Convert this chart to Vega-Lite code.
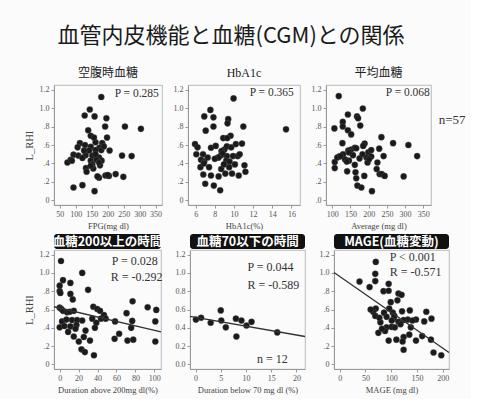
{
  "$schema": "https://vega.github.io/schema/vega-lite/v6.json",
  "background": "#fbfbfb",
  "padding": {"left": 23, "top": 24, "right": 5, "bottom": 5},
  "title": {"text": "血管内皮機能と血糖(CGM)との関係", "anchor": "start", "font": "Noto Sans CJK JP", "fontSize": 22, "fontWeight": "normal", "color": "#1a1a1a", "dx": 34, "offset": 19},
  "config": {
    "view": {"stroke": "#aaa", "strokeWidth": 0.8},
    "axis": {"labelFont": "Liberation Serif", "labelFontSize": 8, "labelColor": "#555", "labelOverlap": false, "labelFlush": false, "titleFont": "Liberation Serif", "titleFontSize": 8.5, "titleFontWeight": "normal", "titleColor": "#444", "domainColor": "#999", "tickColor": "#999", "tickSize": 3, "grid": false, "labelPadding": 2, "titlePadding": 3},
    "axisY": {"titleFontSize": 10.5, "titlePadding": 5},
    "circle": {"size": 38, "color": "#1a1a1a", "opacity": 1, "stroke": "#555", "strokeWidth": 0.4},
    "line": {"color": "#333", "strokeWidth": 1.3}
  },
  "datasets": {
    "p1": [{"x":180,"y":1.12},{"x":144,"y":0.985},{"x":128,"y":0.92},{"x":159,"y":0.91},{"x":196,"y":0.89},{"x":192,"y":0.80},{"x":254,"y":0.80},{"x":304,"y":0.775},{"x":139,"y":0.76},{"x":147,"y":0.70},{"x":198,"y":0.68},{"x":162,"y":0.63},{"x":113,"y":0.62},{"x":129,"y":0.60},{"x":147,"y":0.58},{"x":183,"y":0.62},{"x":174,"y":0.57},{"x":106,"y":0.575},{"x":162,"y":0.545},{"x":206,"y":0.54},{"x":180,"y":0.545},{"x":93,"y":0.495},{"x":108,"y":0.485},{"x":131,"y":0.49},{"x":152,"y":0.485},{"x":173,"y":0.465},{"x":181,"y":0.43},{"x":84,"y":0.44},{"x":74,"y":0.41},{"x":88,"y":0.43},{"x":147,"y":0.43},{"x":165,"y":0.44},{"x":245,"y":0.485},{"x":275,"y":0.48},{"x":132,"y":0.35},{"x":155,"y":0.345},{"x":134,"y":0.31},{"x":176,"y":0.38},{"x":193,"y":0.27},{"x":173,"y":0.245},{"x":168,"y":0.26},{"x":204,"y":0.265},{"x":225,"y":0.285},{"x":200,"y":0.275},{"x":249,"y":0.255},{"x":93,"y":0.14},{"x":121,"y":0.165},{"x":159,"y":0.10},{"x":152,"y":0.39},{"x":162,"y":0.50},{"x":142,"y":0.54},{"x":121,"y":0.46},{"x":147,"y":0.375},{"x":173,"y":0.41},{"x":188,"y":0.585},{"x":126,"y":0.54},{"x":157,"y":0.68}],
    "p2": [{"x":9.96,"y":1.105},{"x":7.54,"y":0.98},{"x":6.9,"y":0.91},{"x":7.86,"y":0.90},{"x":9.4,"y":0.88},{"x":9.33,"y":0.835},{"x":7.86,"y":0.80},{"x":7.05,"y":0.755},{"x":10.98,"y":0.80},{"x":15.44,"y":0.77},{"x":9.65,"y":0.70},{"x":8.88,"y":0.675},{"x":5.93,"y":0.61},{"x":6.2,"y":0.575},{"x":7.6,"y":0.57},{"x":9.0,"y":0.55},{"x":8.7,"y":0.535},{"x":9.26,"y":0.585},{"x":9.72,"y":0.575},{"x":10.2,"y":0.61},{"x":10.84,"y":0.615},{"x":6.07,"y":0.50},{"x":6.77,"y":0.50},{"x":8.32,"y":0.465},{"x":8.67,"y":0.49},{"x":9.26,"y":0.48},{"x":9.9,"y":0.48},{"x":10.4,"y":0.48},{"x":6.56,"y":0.44},{"x":6.9,"y":0.42},{"x":9.2,"y":0.43},{"x":9.54,"y":0.42},{"x":6.5,"y":0.36},{"x":8.67,"y":0.34},{"x":11.1,"y":0.38},{"x":11.2,"y":0.31},{"x":9.1,"y":0.29},{"x":9.8,"y":0.29},{"x":6.8,"y":0.28},{"x":7.6,"y":0.27},{"x":8.4,"y":0.26},{"x":10.5,"y":0.27},{"x":7.0,"y":0.18},{"x":7.9,"y":0.16},{"x":8.56,"y":0.11},{"x":7.26,"y":0.465},{"x":8.8,"y":0.51},{"x":9.3,"y":0.675},{"x":8.4,"y":0.465},{"x":8.0,"y":0.45},{"x":10.1,"y":0.39},{"x":10.6,"y":0.50},{"x":7.4,"y":0.36},{"x":6.85,"y":0.40},{"x":9.5,"y":0.36},{"x":8.1,"y":0.59},{"x":8.95,"y":0.39}],
    "p3": [{"x":118,"y":1.13},{"x":184,"y":0.995},{"x":143,"y":0.93},{"x":168,"y":0.91},{"x":129,"y":0.85},{"x":171,"y":0.89},{"x":106,"y":0.78},{"x":129,"y":0.80},{"x":143,"y":0.76},{"x":152,"y":0.715},{"x":177,"y":0.81},{"x":235,"y":0.685},{"x":128,"y":0.62},{"x":189,"y":0.615},{"x":185,"y":0.59},{"x":267,"y":0.62},{"x":309,"y":0.60},{"x":333,"y":0.48},{"x":152,"y":0.55},{"x":162,"y":0.57},{"x":144,"y":0.54},{"x":166,"y":0.565},{"x":199,"y":0.52},{"x":207,"y":0.545},{"x":229,"y":0.56},{"x":119,"y":0.475},{"x":130,"y":0.50},{"x":135,"y":0.445},{"x":146,"y":0.43},{"x":157,"y":0.49},{"x":175,"y":0.455},{"x":194,"y":0.465},{"x":207,"y":0.475},{"x":241,"y":0.48},{"x":107,"y":0.415},{"x":107,"y":0.35},{"x":114,"y":0.465},{"x":140,"y":0.42},{"x":162,"y":0.385},{"x":197,"y":0.41},{"x":224,"y":0.41},{"x":222,"y":0.34},{"x":141,"y":0.315},{"x":164,"y":0.305},{"x":166,"y":0.24},{"x":188,"y":0.265},{"x":230,"y":0.285},{"x":236,"y":0.285},{"x":244,"y":0.265},{"x":296,"y":0.26},{"x":169,"y":0.16},{"x":180,"y":0.14},{"x":209,"y":0.10},{"x":201,"y":0.445},{"x":183,"y":0.50},{"x":123,"y":0.48},{"x":146,"y":0.52}],
    "p4": [{"x":1.4,"y":1.13},{"x":23.8,"y":1.0},{"x":3.5,"y":0.92},{"x":11.3,"y":0.89},{"x":0,"y":0.86},{"x":0,"y":0.80},{"x":30,"y":0.815},{"x":0.7,"y":0.78},{"x":11.3,"y":0.77},{"x":13.8,"y":0.71},{"x":77,"y":0.69},{"x":0,"y":0.62},{"x":1.8,"y":0.605},{"x":3.5,"y":0.585},{"x":7.8,"y":0.57},{"x":10.6,"y":0.575},{"x":14.9,"y":0.585},{"x":35.5,"y":0.63},{"x":39.7,"y":0.605},{"x":42.6,"y":0.585},{"x":46.8,"y":0.54},{"x":70.6,"y":0.56},{"x":92.9,"y":0.625},{"x":102,"y":0.595},{"x":43.6,"y":0.50},{"x":48.6,"y":0.50},{"x":38.7,"y":0.455},{"x":58.5,"y":0.47},{"x":76.6,"y":0.475},{"x":101,"y":0.47},{"x":2.5,"y":0.47},{"x":7.1,"y":0.49},{"x":13,"y":0.485},{"x":18.4,"y":0.485},{"x":23.8,"y":0.48},{"x":0,"y":0.405},{"x":5,"y":0.42},{"x":11.3,"y":0.415},{"x":17.7,"y":0.43},{"x":37.2,"y":0.40},{"x":75.5,"y":0.40},{"x":8.9,"y":0.355},{"x":14.9,"y":0.305},{"x":25.5,"y":0.30},{"x":62.8,"y":0.335},{"x":20.2,"y":0.25},{"x":32,"y":0.26},{"x":58,"y":0.28},{"x":71.6,"y":0.26},{"x":77.7,"y":0.27},{"x":101,"y":0.25},{"x":23,"y":0.165},{"x":26.6,"y":0.135},{"x":36.2,"y":0.10},{"x":27.3,"y":0.37},{"x":16.7,"y":0.39},{"x":34.4,"y":0.50}],
    "p5": [{"x":0.07,"y":0.49},{"x":1.1,"y":0.51},{"x":3,"y":0.455},{"x":5,"y":0.59},{"x":5.1,"y":0.48},{"x":6,"y":0.405},{"x":8,"y":0.50},{"x":9.1,"y":0.48},{"x":10.1,"y":0.425},{"x":11.1,"y":0.465},{"x":8.1,"y":0.305},{"x":16.2,"y":0.35}],
    "p6": [{"x":70,"y":1.12},{"x":69,"y":0.99},{"x":38.5,"y":0.905},{"x":69,"y":0.91},{"x":95,"y":0.88},{"x":58,"y":0.845},{"x":85,"y":0.80},{"x":95,"y":0.805},{"x":114,"y":0.775},{"x":120,"y":0.76},{"x":99,"y":0.68},{"x":112,"y":0.70},{"x":70,"y":0.61},{"x":96,"y":0.61},{"x":65,"y":0.575},{"x":86,"y":0.565},{"x":103,"y":0.565},{"x":121,"y":0.58},{"x":136,"y":0.59},{"x":168,"y":0.575},{"x":69,"y":0.53},{"x":91,"y":0.52},{"x":105,"y":0.50},{"x":132,"y":0.49},{"x":148,"y":0.49},{"x":164,"y":0.47},{"x":178,"y":0.50},{"x":79,"y":0.46},{"x":114,"y":0.465},{"x":124,"y":0.485},{"x":91,"y":0.405},{"x":101,"y":0.41},{"x":88,"y":0.365},{"x":75,"y":0.345},{"x":138,"y":0.405},{"x":135,"y":0.325},{"x":124,"y":0.30},{"x":160,"y":0.31},{"x":95,"y":0.26},{"x":110,"y":0.27},{"x":122,"y":0.25},{"x":148,"y":0.26},{"x":177,"y":0.27},{"x":124,"y":0.16},{"x":182,"y":0.13},{"x":197,"y":0.10},{"x":106,"y":0.53},{"x":118,"y":0.44},{"x":77,"y":0.51},{"x":101,"y":0.48},{"x":60,"y":0.60},{"x":141,"y":0.48},{"x":107,"y":0.405},{"x":82,"y":0.39}]
  },
  "spacing": 4,
  "vconcat": [
    {
      "spacing": 9,
      "hconcat": [
        {
          "width": 108, "height": 120,
          "title": {"text": "空腹時血糖", "font": "Noto Sans CJK JP", "fontSize": 12, "fontWeight": "normal", "color": "#222", "offset": 5},
          "layer": [
            {"data": {"name": "p1"}, "mark": "circle",
             "encoding": {
               "x": {"field": "x", "type": "quantitative", "scale": {"domain": [32, 370], "nice": false, "zero": false}, "axis": {"values": [50,100,150,200,250,300,350], "tickCount": 20, "format": "d", "title": "FPG(mg dl)"}},
               "y": {"field": "y", "type": "quantitative", "scale": {"domain": [-0.05, 1.25], "nice": false}, "axis": {"values": [0,0.2,0.4,0.6,0.8,1,1.2], "tickCount": 20, "title": "L_RHI", "labelExpr": "datum.value >= 1 ? format(datum.value, '.1f') : datum.value == 0 ? '0' : replace(format(datum.value, '.1f'), '0.', '.')"}}
             }},
            {"data": {"values": [{"x": 222, "y": 1.15, "t": "P = 0.285"}]}, "mark": {"type": "text", "font": "Liberation Serif", "fontSize": 11.5, "color": "#333", "align": "left"},
             "encoding": {"x": {"field": "x", "type": "quantitative"}, "y": {"field": "y", "type": "quantitative"}, "text": {"field": "t"}}}
          ]
        },
        {
          "width": 112, "height": 120,
          "title": {"text": "HbA1c", "font": "Liberation Serif", "fontSize": 12, "fontWeight": "normal", "color": "#222", "offset": 5},
          "layer": [
            {"data": {"name": "p2"}, "mark": "circle",
             "encoding": {
               "x": {"field": "x", "type": "quantitative", "scale": {"domain": [5.2, 16.9], "nice": false, "zero": false}, "axis": {"values": [6,8,10,12,14,16], "tickCount": 20, "format": "d", "title": "HbA1c(%)"}},
               "y": {"field": "y", "type": "quantitative", "scale": {"domain": [-0.05, 1.25], "nice": false}, "axis": {"values": [0,0.2,0.4,0.6,0.8,1,1.2], "tickCount": 20, "title": null, "labelExpr": "datum.value >= 1 ? format(datum.value, '.1f') : datum.value == 0 ? '0' : replace(format(datum.value, '.1f'), '0.', '.')"}}
             }},
            {"data": {"values": [{"x": 11.65, "y": 1.16, "t": "P = 0.365"}]}, "mark": {"type": "text", "font": "Liberation Serif", "fontSize": 11.5, "color": "#333", "align": "left"},
             "encoding": {"x": {"field": "x", "type": "quantitative"}, "y": {"field": "y", "type": "quantitative"}, "text": {"field": "t"}}}
          ]
        },
        {
          "width": 105, "height": 120,
          "title": {"text": "平均血糖", "font": "Noto Sans CJK JP", "fontSize": 12, "fontWeight": "normal", "color": "#222", "offset": 5},
          "layer": [
            {"data": {"name": "p3"}, "mark": "circle",
             "encoding": {
               "x": {"field": "x", "type": "quantitative", "scale": {"domain": [83, 371], "nice": false, "zero": false}, "axis": {"values": [100,150,200,250,300,350], "tickCount": 20, "format": "d", "title": "Average (mg dl)"}},
               "y": {"field": "y", "type": "quantitative", "scale": {"domain": [-0.05, 1.25], "nice": false}, "axis": {"values": [0,0.2,0.4,0.6,0.8,1,1.2], "tickCount": 20, "title": null, "labelExpr": "datum.value >= 1 ? format(datum.value, '.1f') : replace(format(datum.value, '.1f'), '0.', '.')"}}
             }},
            {"data": {"values": [{"x": 247, "y": 1.16, "t": "P = 0.068"}]}, "mark": {"type": "text", "font": "Liberation Serif", "fontSize": 11.5, "color": "#333", "align": "left"},
             "encoding": {"x": {"field": "x", "type": "quantitative"}, "y": {"field": "y", "type": "quantitative"}, "text": {"field": "t"}}},
            {"data": {"values": [{"x": 392, "y": 0.87, "t": "n=57"}]}, "mark": {"type": "text", "font": "Liberation Serif", "fontSize": 13, "color": "#333", "align": "left"},
             "encoding": {"x": {"field": "x", "type": "quantitative"}, "y": {"field": "y", "type": "quantitative"}, "text": {"field": "t"}}}
          ]
        }
      ]
    },
    {
      "spacing": 10,
      "hconcat": [
        {
          "spacing": 0,
          "vconcat": [
            {"width": 107, "height": 15, "view": {"fill": "#111", "stroke": null, "cornerRadius": 3},
             "data": {"values": [{"t": "血糖200以上の時間"}]},
             "mark": {"type": "text", "align": "center", "color": "white", "font": "Noto Sans CJK JP", "fontWeight": "bold", "fontSize": 12.5},
             "encoding": {"text": {"field": "t"}}},
            {
              "width": 107, "height": 119,
              "layer": [
                {"data": {"name": "p4"}, "mark": "circle",
                 "encoding": {
                   "x": {"field": "x", "type": "quantitative", "scale": {"domain": [-6, 107], "nice": false, "zero": false}, "axis": {"values": [0,20,40,60,80,100], "tickCount": 20, "format": "d", "title": "Duration above 200mg dl(%)"}},
                   "y": {"field": "y", "type": "quantitative", "scale": {"domain": [-0.05, 1.25], "nice": false}, "axis": {"values": [0,0.2,0.4,0.6,0.8,1,1.2], "tickCount": 20, "title": "L_RHI", "labelExpr": "datum.value >= 1 ? format(datum.value, '.1f') : datum.value == 0 ? '0' : replace(format(datum.value, '.1f'), '0.', '.')"}}
                 }},
                {"data": {"values": [{"x": -6, "y": 0.63}, {"x": 107, "y": 0.355}]}, "mark": "line",
                 "encoding": {"x": {"field": "x", "type": "quantitative"}, "y": {"field": "y", "type": "quantitative"}}},
                {"data": {"values": [{"x": 55, "y": 1.13, "t": "P = 0.028"}, {"x": 54, "y": 0.96, "t": "R = -0.292"}]}, "mark": {"type": "text", "font": "Liberation Serif", "fontSize": 12, "color": "#333", "align": "left"},
                 "encoding": {"x": {"field": "x", "type": "quantitative"}, "y": {"field": "y", "type": "quantitative"}, "text": {"field": "t"}}}
              ]
            }
          ]
        },
        {
          "spacing": 0,
          "vconcat": [
            {"width": 115, "height": 15, "view": {"fill": "#111", "stroke": null, "cornerRadius": 3},
             "data": {"values": [{"t": "血糖70以下の時間"}]},
             "mark": {"type": "text", "align": "center", "color": "white", "font": "Noto Sans CJK JP", "fontWeight": "bold", "fontSize": 12.5},
             "encoding": {"text": {"field": "t"}}},
            {
              "width": 115, "height": 119,
              "layer": [
                {"data": {"name": "p5"}, "mark": "circle",
                 "encoding": {
                   "x": {"field": "x", "type": "quantitative", "scale": {"domain": [-1.1, 21.7], "nice": false, "zero": false}, "axis": {"values": [0,5,10,15,20], "tickCount": 20, "format": "d", "title": "Duration below 70 mg dl (%)"}},
                   "y": {"field": "y", "type": "quantitative", "scale": {"domain": [-0.05, 1.25], "nice": false}, "axis": {"values": [0,0.2,0.4,0.6,0.8,1,1.2], "tickCount": 20, "title": null, "format": ".1f"}}
                 }},
                {"data": {"values": [{"x": -1.1, "y": 0.525}, {"x": 21.7, "y": 0.305}]}, "mark": "line",
                 "encoding": {"x": {"field": "x", "type": "quantitative"}, "y": {"field": "y", "type": "quantitative"}}},
                {"data": {"values": [{"x": 10.3, "y": 1.06, "t": "P = 0.044"}, {"x": 10.3, "y": 0.87, "t": "R = -0.589"}, {"x": 12.2, "y": 0.06, "t": "n = 12"}]}, "mark": {"type": "text", "font": "Liberation Serif", "fontSize": 12, "color": "#333", "align": "left"},
                 "encoding": {"x": {"field": "x", "type": "quantitative"}, "y": {"field": "y", "type": "quantitative"}, "text": {"field": "t"}}}
              ]
            }
          ]
        },
        {
          "spacing": 0,
          "vconcat": [
            {"width": 115, "height": 15, "view": {"fill": "#111", "stroke": null, "cornerRadius": 3},
             "data": {"values": [{"t": "MAGE(血糖変動)"}]},
             "mark": {"type": "text", "align": "center", "color": "white", "font": "Noto Sans CJK JP", "fontWeight": "bold", "fontSize": 12.5},
             "encoding": {"text": {"field": "t"}}},
            {
              "width": 115, "height": 119,
              "layer": [
                {"data": {"name": "p6"}, "mark": "circle",
                 "encoding": {
                   "x": {"field": "x", "type": "quantitative", "scale": {"domain": [-11, 212], "nice": false, "zero": false}, "axis": {"values": [0,50,100,150,200], "tickCount": 20, "format": "d", "title": "MAGE (mg dl)"}},
                   "y": {"field": "y", "type": "quantitative", "scale": {"domain": [-0.05, 1.25], "nice": false}, "axis": {"values": [0,0.2,0.4,0.6,0.8,1,1.2], "tickCount": 20, "title": null, "labelExpr": "datum.value >= 1 ? format(datum.value, '.1f') : datum.value == 0 ? '0' : replace(format(datum.value, '.1f'), '0.', '.')"}}
                 }},
                {"data": {"values": [{"x": -11, "y": 1.005}, {"x": 212, "y": 0.13}]}, "mark": "line",
                 "encoding": {"x": {"field": "x", "type": "quantitative"}, "y": {"field": "y", "type": "quantitative"}}},
                {"data": {"values": [{"x": 97, "y": 1.17, "t": "P < 0.001"}, {"x": 97, "y": 1.005, "t": "R = -0.571"}]}, "mark": {"type": "text", "font": "Liberation Serif", "fontSize": 12, "color": "#333", "align": "left"},
                 "encoding": {"x": {"field": "x", "type": "quantitative"}, "y": {"field": "y", "type": "quantitative"}, "text": {"field": "t"}}}
              ]
            }
          ]
        }
      ]
    }
  ]
}
